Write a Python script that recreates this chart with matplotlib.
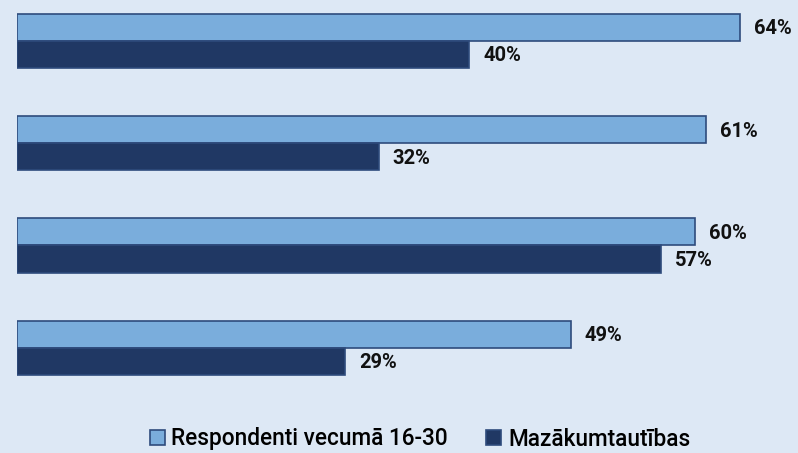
import matplotlib
matplotlib.use("Agg")
import matplotlib.pyplot as plt
from matplotlib.patches import Patch
import numpy as np

# data
series_names = ["Respondenti vecumā 16-30", "Mazākumtautības"]
youth = [64, 61, 60, 49]
minority = [40, 32, 57, 29]

light = "#7aaddc"
dark = "#203864"
edge = "#2e4b7c"
bg = "#dde8f5"

plt.rcParams['font.family'] = ['Roboto', 'DejaVu Sans']

fig = plt.figure(figsize=(7.98, 4.53), dpi=100, facecolor=bg)
ax = fig.add_axes([17/798, 0, 781/798, 1])
ax.set_facecolor(bg)

pos = np.arange(len(youth))
h = 0.265
b1 = ax.barh(pos - h/2, youth, height=h, color=light, edgecolor=edge, linewidth=1.2)
b2 = ax.barh(pos + h/2, minority, height=h, color=dark, edgecolor=edge, linewidth=1.2)

for bars, vals in ((b1, youth), (b2, minority)):
    for r, v in zip(bars, vals):
        ax.text(r.get_width() + 1.25, r.get_y() + r.get_height()/2 + 0.015, f"{v}%",
                va="center", ha="left", fontsize=14.5, fontweight="bold",
                color="#111111")

ax.set_xlim(0, 781/11.3)
ax.set_ylim(4.03, -0.40)
ax.axis("off")

handles = [Patch(facecolor=light, edgecolor=edge, linewidth=1.2),
           Patch(facecolor=dark, edgecolor=edge, linewidth=1.2)]
fig.legend(handles, series_names, loc="center", bbox_to_anchor=(420/798, 1 - 439/453),
           ncol=2, frameon=False, handlelength=0.65, handleheight=0.65,
           handletextpad=0.3, columnspacing=1.7, prop={'weight': 'medium', 'size': 16.3})

fig.savefig("out.png", dpi=100, facecolor=bg)
